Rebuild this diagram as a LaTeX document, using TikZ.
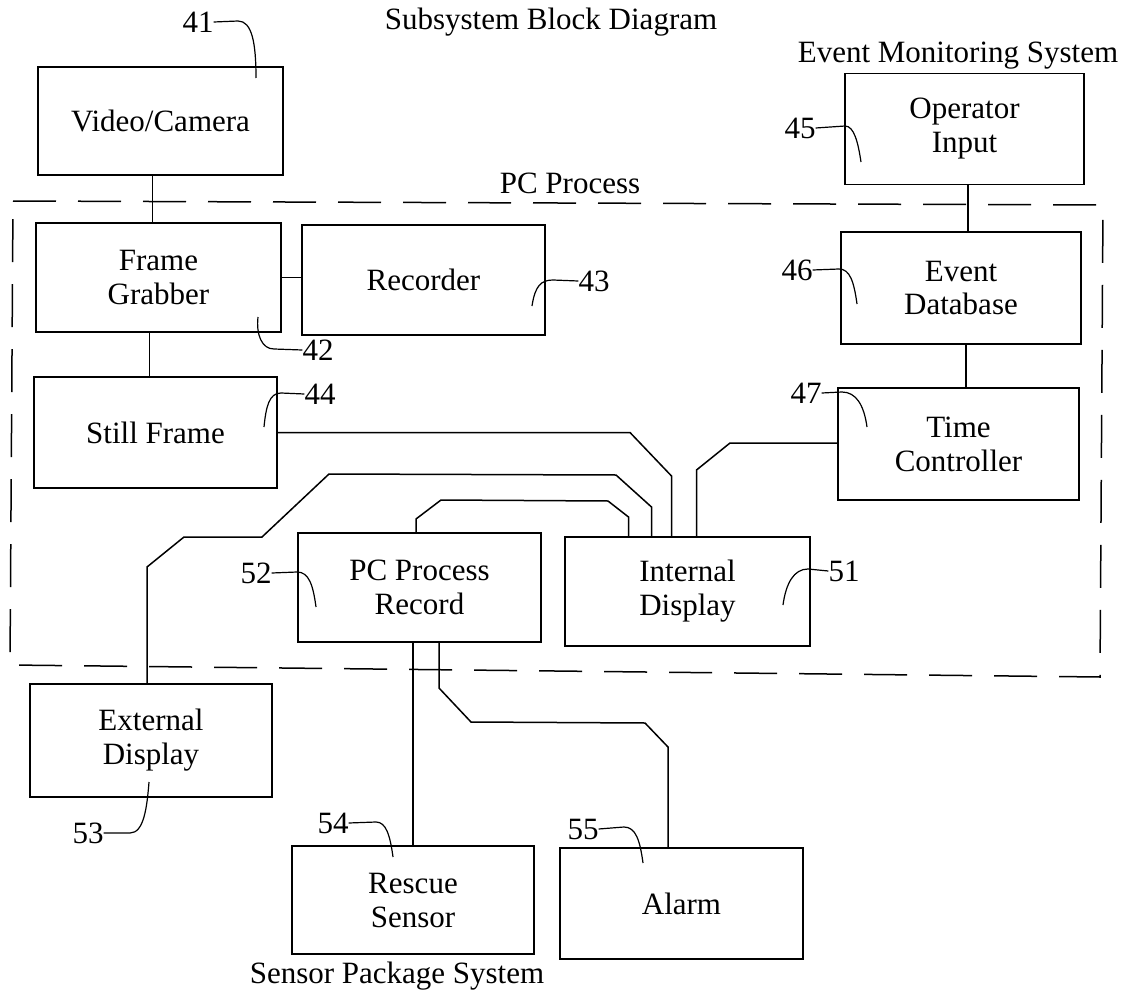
\documentclass[tikz,border=0pt]{standalone}
\usepackage{fontspec}
\setmainfont{Liberation Serif}
\begin{document}
\begin{tikzpicture}[x=1pt,y=-1pt,
  font=\fontsize{31}{34}\selectfont,
  box/.style={draw, line width=1.5pt, inner sep=0pt, align=center},
  lbl/.style={inner sep=0pt},
  wire/.style={line width=1.5pt},
  refline/.style={line width=1.2pt},
  frame/.style={line width=1.5pt, dash pattern=on 43pt off 22pt}]
\useasboundingbox (0,0) rectangle (1125,998);

% titles
\node[lbl] (title) at (551,22) {Subsystem Block Diagram};
\node[lbl] (ems) at (958,56) {Event Monitoring System};
\node[lbl] (pcp) at (570,183) {PC Process};
\node[lbl] (sps) at (397,976) {Sensor Package System};

% dashed PC process boundary
\draw[frame] (13,201) -- (1103,205) -- (1100,677) -- (10,665) -- cycle;

% boxes
\node[box, minimum width=245pt, minimum height=108pt] (video) at (160.5,121) {Video/Camera};
\node[box, minimum width=239pt, minimum height=111pt] (opin) at (964.5,129) {Operator\\Input};
\node[box, minimum width=245pt, minimum height=109pt] (fg) at (158.5,277.5) {Frame\\Grabber};
\node[box, minimum width=243pt, minimum height=110pt] (rec) at (423.5,280) {Recorder};
\node[box, minimum width=243pt, minimum height=111pt] (still) at (155.5,432.5) {Still Frame};
\node[box, minimum width=240pt, minimum height=112pt] (evdb) at (961,288) {Event\\Database};
\node[box, minimum width=241pt, minimum height=112pt] (time) at (958.5,444) {Time\\Controller};
\node[box, minimum width=243pt, minimum height=109pt] (pcrec) at (419.5,587.5) {PC Process\\Record};
\node[box, minimum width=245pt, minimum height=109pt] (intd) at (687.5,591.5) {Internal\\Display};
\node[box, minimum width=242pt, minimum height=113pt] (extd) at (151,740.5) {External\\Display};
\node[box, minimum width=242pt, minimum height=108pt] (rescue) at (413,900) {Rescue\\Sensor};
\node[box, minimum width=243pt, minimum height=111pt] (alarm) at (681.5,903.5) {Alarm};

% connectors
\draw[wire] ([xshift=-8pt]video.south) -- ([xshift=-8pt]video.south |- fg.north);
\draw[wire] (fg.east) -- (fg.east -| rec.west);
\draw[wire] ([xshift=-9pt]fg.south) -- ([xshift=-9pt]fg.south |- still.north);
\draw[wire] ([xshift=3.5pt]opin.south) -- ([xshift=3.5pt]opin.south |- evdb.north);
\draw[wire] ([xshift=5pt]evdb.south) -- ([xshift=5pt]evdb.south |- time.north);
\draw[wire] (still.east) -- (630,432.5) -- (671.5,476) -- ([xshift=-16pt]intd.north);
\draw[wire] ([xshift=-4pt]extd.north) -- (147,567) -- (184,537) -- (262,537) -- (329,474)
  -- (616,475) -- (651.5,507) -- ([xshift=-36pt]intd.north);
\draw[wire] ([xshift=-3.5pt]pcrec.north) -- (416,519) -- (441,500) -- (608,501) -- (628.5,517)
  -- ([xshift=-59pt]intd.north);
\draw[wire] ([yshift=1pt]time.west) -- (730,443) -- (696.5,470) -- ([xshift=9pt]intd.north);
\draw[wire] (rescue.north |- pcrec.south) -- (rescue.north);
\draw[wire] ([xshift=19.5pt]pcrec.south) -- (439,688) -- (471,722) -- (645,723) -- (668,747)
  -- ([xshift=-13.5pt]alarm.north);

% reference numerals
\node[lbl] (n41) at (198,22) {41};
\draw[refline] (n41.east) -- (238,21) .. controls +(14,0) and +(0,-35) .. (256,78);
\node[lbl] (n45) at (800,128) {45};
\draw[refline] (n45.east) -- (845,126) .. controls +(9,0) and +(-3,-20) .. (861,162);
\node[lbl] (n46) at (797,270) {46};
\draw[refline] (n46.east) -- (839,269) .. controls +(11,0) and +(-3,-22) .. (857,304);
\node[lbl] (n47) at (806,393) {47};
\draw[refline] (n47.east) -- (842,392) .. controls +(14,0) and +(-3,-22) .. (867,427);
\node[lbl] (n52) at (256,573) {52};
\draw[refline] (n52.east) -- (297,572) .. controls +(12,0) and +(-3,-22) .. (316,607);
\node[lbl] (n54) at (333,823) {54};
\draw[refline] (n54.east) -- (376,822) .. controls +(10,0) and +(-3,-22) .. (393,857);
\node[lbl] (n55) at (583,829) {55};
\draw[refline] (n55.east) -- (624,827) .. controls +(12,0) and +(-3,-22) .. (643,863);
\node[lbl] (n43) at (594,281) {43};
\draw[refline] (n43.west) -- (553,280) .. controls +(-12,0) and +(3,-20) .. (532,306);
\node[lbl] (n51) at (844,571) {51};
\draw[refline] (n51.west) -- (808,569) .. controls +(-14,0) and +(3,-22) .. (783,605);
\node[lbl] (n44) at (320,394) {44};
\draw[refline] (n44.west) -- (281,393) .. controls +(-12,0) and +(2,-20) .. (264,427);
\node[lbl] (n42) at (318,350) {42};
\draw[refline] (n42.west) -- (274,349) .. controls +(-12,0) and +(-2,18) .. (258,317);
\node[lbl] (n53) at (88,833) {53};
\draw[refline] (n53.east) -- (130,833) .. controls +(14,0) and +(-2,25) .. (149,782);
\end{tikzpicture}
\end{document}
